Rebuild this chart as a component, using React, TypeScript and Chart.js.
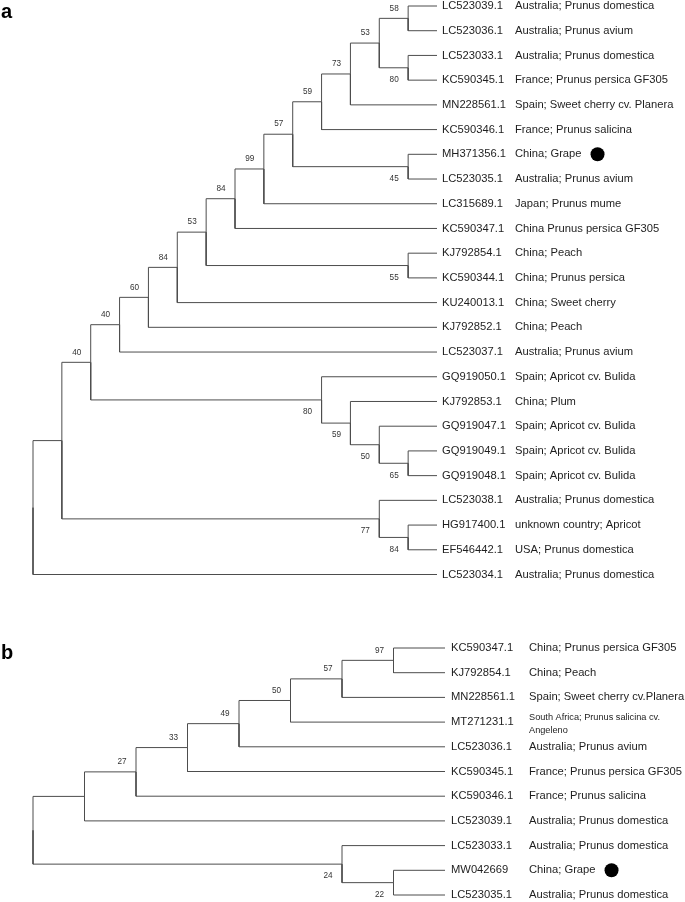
import React, { useEffect, useRef } from "react";
import { Chart, registerables } from "chart.js";

Chart.register(...registerables);

// ---------------- Panel a data ----------------
const leafIdsA = [
  "LC523039.1", "LC523036.1", "LC523033.1", "KC590345.1", "MN228561.1", "KC590346.1",
  "MH371356.1", "LC523035.1", "LC315689.1", "KC590347.1", "KJ792854.1", "KC590344.1",
  "KU240013.1", "KJ792852.1", "LC523037.1", "GQ919050.1", "KJ792853.1", "GQ919047.1",
  "GQ919049.1", "GQ919048.1", "LC523038.1", "HG917400.1", "EF546442.1", "LC523034.1",
];
const leafDescA = [
  "Australia; Prunus domestica", "Australia; Prunus avium", "Australia; Prunus domestica",
  "France; Prunus persica GF305", "Spain; Sweet cherry cv. Planera", "France; Prunus salicina",
  "China; Grape", "Australia; Prunus avium", "Japan; Prunus mume", "China Prunus persica GF305",
  "China; Peach", "China; Prunus persica", "China; Sweet cherry", "China; Peach",
  "Australia; Prunus avium", "Spain; Apricot cv. Bulida", "China; Plum", "Spain; Apricot cv. Bulida",
  "Spain; Apricot cv. Bulida", "Spain; Apricot cv. Bulida", "Australia; Prunus domestica",
  "unknown country; Apricot", "USA; Prunus domestica", "Australia; Prunus domestica",
];
// internal nodes (children listed before parents); "L#" = leaf, "N#" = node
const nodeChildrenA = [
  ["L0", "L1"], ["L2", "L3"], ["N0", "N1"], ["N2", "L4"], ["N3", "L5"], ["L6", "L7"],
  ["N4", "N5"], ["N6", "L8"], ["N7", "L9"], ["L10", "L11"], ["N8", "N9"], ["N10", "L12"],
  ["N11", "L13"], ["N12", "L14"], ["L18", "L19"], ["L17", "N14"], ["L16", "N15"], ["L15", "N16"],
  ["N13", "N17"], ["L21", "L22"], ["L20", "N19"], ["N18", "N20"], ["N21", "L23"],
];
const nodeSupportA = [
  58, 80, 53, 73, 59, 45, 57, 99, 84, 55, 53, 84, 60, 40, 65, 50, 59, 80, 40, 84, 77, null, null,
];
const markedA = ["MH371356.1"];

// ---------------- Panel b data ----------------
const leafIdsB = [
  "KC590347.1", "KJ792854.1", "MN228561.1", "MT271231.1", "LC523036.1", "KC590345.1",
  "KC590346.1", "LC523039.1", "LC523033.1", "MW042669", "LC523035.1",
];
const leafDescB = [
  "China; Prunus persica GF305", "China; Peach", "Spain; Sweet cherry cv.Planera",
  "South Africa; Prunus salicina cv.|Angeleno", "Australia; Prunus avium",
  "France; Prunus persica GF305", "France; Prunus salicina", "Australia; Prunus domestica",
  "Australia; Prunus domestica", "China; Grape", "Australia; Prunus domestica",
];
const nodeChildrenB = [
  ["L0", "L1"], ["N0", "L2"], ["N1", "L3"], ["N2", "L4"], ["N3", "L5"], ["N4", "L6"],
  ["N5", "L7"], ["L9", "L10"], ["L8", "N7"], ["N6", "N8"],
];
const nodeSupportB = [97, 57, 50, 49, 33, 27, null, 22, 24, null];
const markedB = ["MW042669"];

type Seg = { x: number; y: number }[];
type Lab = { x: number; y: number; text: string; below: boolean };

function layoutTree(children: string[][], support: (number | null)[]) {
  const n = children.length;
  const h: number[] = [];
  const yv: number[] = [];
  const parentOf: Record<string, { p: number; idx: number; count: number }> = {};
  const info = (ref: string) => {
    const k = +ref.slice(1);
    return ref[0] === "L" ? { h: 0, y: k } : { h: h[k], y: yv[k] };
  };
  for (let j = 0; j < n; j++) {
    const cs = children[j].map(info);
    h[j] = 1 + Math.max(...cs.map((c) => c.h));
    yv[j] = (cs[0].y + cs[cs.length - 1].y) / 2;
    children[j].forEach((c, i) => (parentOf[c] = { p: j, idx: i, count: children[j].length }));
  }
  const maxH = h[n - 1];
  const segs: Seg[] = [];
  const labels: Lab[] = [];
  for (let j = 0; j < n; j++) {
    const nx = maxH - h[j];
    for (const c of children[j]) {
      const ci = info(c);
      const cx = maxH - ci.h;
      segs.push([
        { x: nx, y: yv[j] },
        { x: nx, y: ci.y },
        { x: cx, y: ci.y },
      ]);
    }
    const s = support[j];
    if (s !== null && s !== undefined) {
      const par = parentOf["N" + j];
      labels.push({ x: nx, y: yv[j], text: String(s), below: par ? par.idx > 0 : false });
    }
  }
  return { segs, labels, maxH };
}

type PanelProps = {
  top: number;
  height: number;
  letter: string;
  letterY: number;
  ids: string[];
  descs: string[];
  children: string[][];
  support: (number | null)[];
  marked: string[];
  pad: { left: number; right: number; top: number; bottom: number };
  idGap: number;
  descX: number;
};

const LINE = "#4d4d4d";
const TEXT = "#1e1e1e";
const FONT = "'Liberation Sans', Arial, sans-serif";

function TreePanel(props: PanelProps) {
  const ref = useRef<HTMLCanvasElement | null>(null);
  useEffect(() => {
    const canvas = ref.current;
    if (!canvas) return;
    const { segs, labels, maxH } = layoutTree(props.children, props.support);
    const datasets = segs.map((s) => ({
      data: s,
      showLine: true,
      borderColor: LINE,
      borderWidth: 1,
      pointRadius: 0,
      fill: false,
      tension: 0,
      clip: false as any,
    }));
    const textPlugin = {
      id: "treeText",
      afterDatasetsDraw(chart: any) {
        const ctx = chart.ctx as CanvasRenderingContext2D;
        const xs = chart.scales.x;
        const ys = chart.scales.y;
        ctx.save();
        // bootstrap values
        ctx.fillStyle = "#333";
        ctx.font = `8.2px ${FONT}`;
        ctx.textAlign = "center";
        ctx.textBaseline = "middle";
        for (const l of labels) {
          const px = xs.getPixelForValue(l.x) - 14;
          const py = ys.getPixelForValue(l.y) + (l.below ? 12 : -10);
          ctx.fillText(l.text, px, py);
        }
        // leaf labels
        ctx.textAlign = "left";
        ctx.fillStyle = TEXT;
        const lx = xs.getPixelForValue(maxH) + props.idGap;
        props.ids.forEach((id, i) => {
          const py = ys.getPixelForValue(i);
          ctx.font = `11.2px ${FONT}`;
          ctx.fillText(id, lx, py);
          const d = props.descs[i];
          if (d.includes("|")) {
            const [a, b] = d.split("|");
            ctx.font = `9.2px ${FONT}`;
            ctx.fillText(a, props.descX, py - 5);
            ctx.fillText(b, props.descX, py + 8);
          } else {
            ctx.font = `11.2px ${FONT}`;
            ctx.fillText(d, props.descX, py);
            if (props.marked.includes(id)) {
              const w = ctx.measureText(d).width;
              ctx.beginPath();
              ctx.arc(props.descX + w + 16, py, 7, 0, Math.PI * 2);
              ctx.fillStyle = "#000";
              ctx.fill();
              ctx.fillStyle = TEXT;
            }
          }
        });
        // panel letter
        ctx.fillStyle = "#000";
        ctx.font = `bold 20px ${FONT}`;
        ctx.textBaseline = "alphabetic";
        ctx.fillText(props.letter, 1, props.letterY);
        ctx.restore();
      },
    };
    const chart = new Chart(canvas, {
      type: "scatter",
      data: { datasets: datasets as any },
      options: {
        animation: false,
        responsive: false,
        devicePixelRatio: 1,
        events: [],
        layout: { padding: props.pad },
        plugins: { legend: { display: false }, tooltip: { enabled: false } },
        scales: {
          x: { type: "linear", min: 0, max: maxH, display: false },
          y: { type: "linear", min: 0, max: props.ids.length - 1, reverse: true, display: false },
        },
      },
      plugins: [textPlugin],
    });
    return () => chart.destroy();
  }, []);
  return (
    <canvas
      ref={ref}
      width={685}
      height={props.height}
      style={{ position: "absolute", left: 0, top: props.top, width: 685, height: props.height }}
    />
  );
}

export default function App() {
  return (
    <div style={{ position: "absolute", left: 0, top: 0, width: 685, height: 902, background: "#fff" }}>
      <TreePanel
        top={0}
        height={605}
        letter="a"
        letterY={18}
        ids={leafIdsA}
        descs={leafDescA}
        children={nodeChildrenA}
        support={nodeSupportA}
        marked={markedA}
        pad={{ left: 33, right: 685 - 437, top: 6, bottom: 605 - 574.5 }}
        idGap={5}
        descX={515}
      />
      <TreePanel
        top={620}
        height={282}
        letter="b"
        letterY={39}
        ids={leafIdsB}
        descs={leafDescB}
        children={nodeChildrenB}
        support={nodeSupportB}
        marked={markedB}
        pad={{ left: 33, right: 685 - 445, top: 28, bottom: 7 }}
        idGap={6}
        descX={529}
      />
    </div>
  );
}
